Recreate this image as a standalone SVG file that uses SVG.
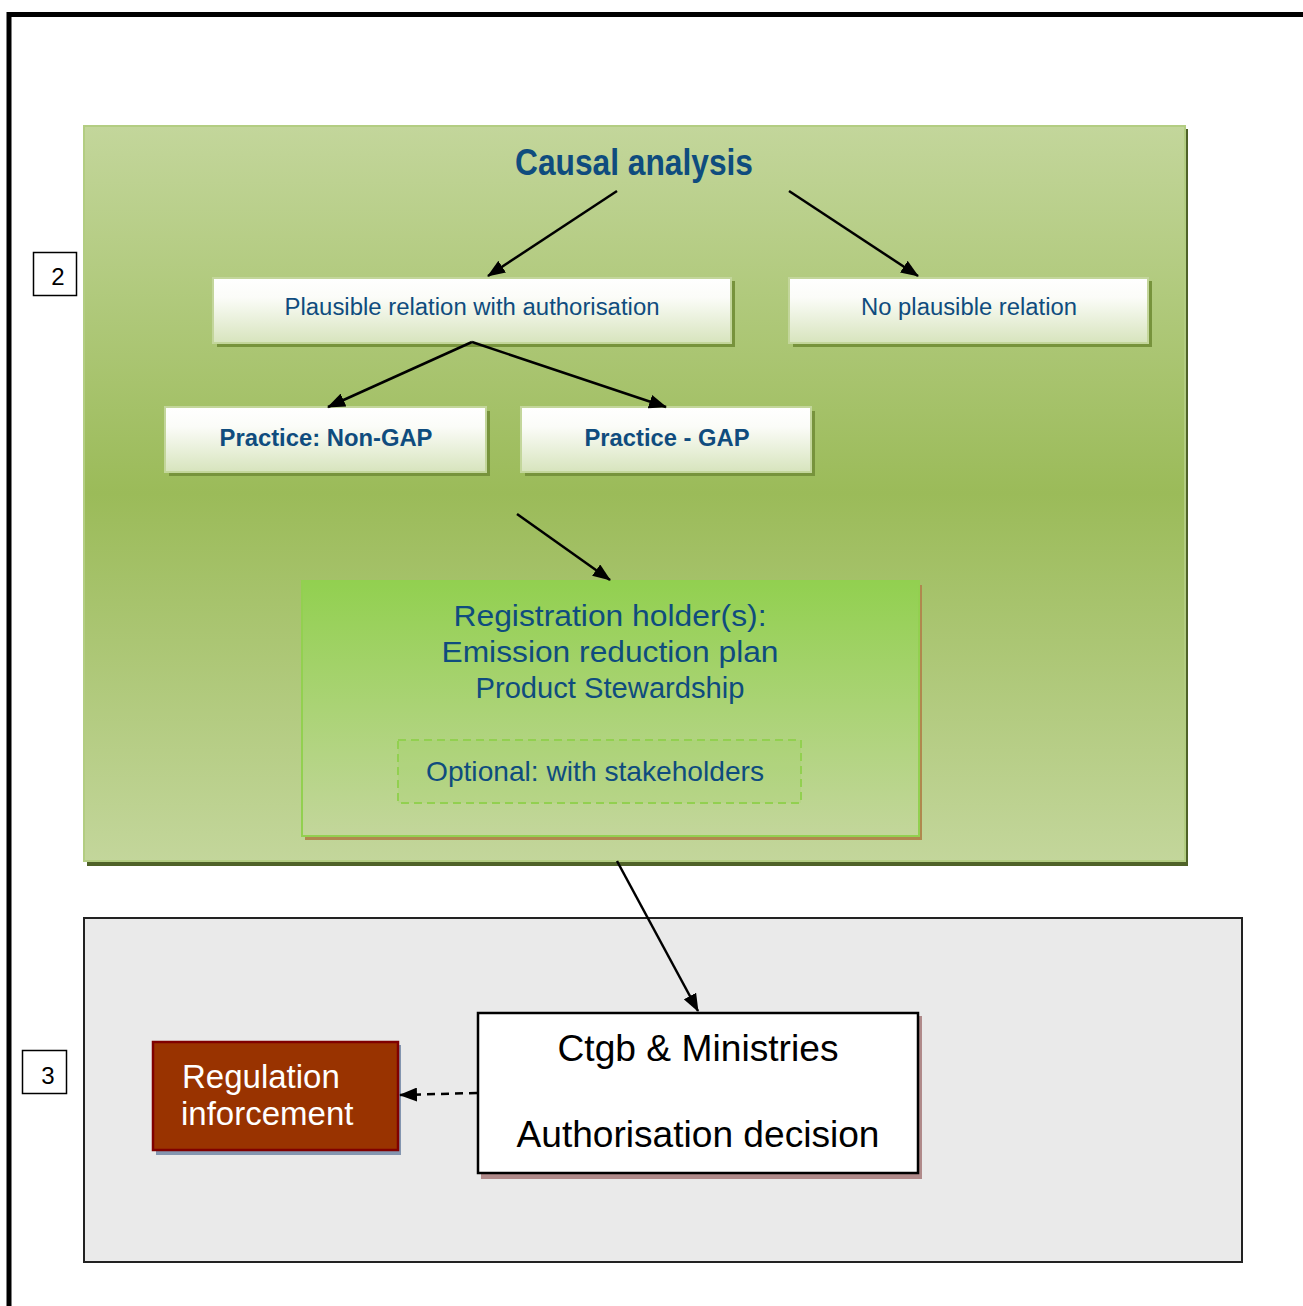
<svg xmlns="http://www.w3.org/2000/svg" width="1303" height="1306" viewBox="0 0 1303 1306">
  <defs>
    <linearGradient id="panelGreen" x1="0" y1="0" x2="0" y2="1">
      <stop offset="0" stop-color="#c3d69b"/>
      <stop offset="0.5" stop-color="#9bbb59"/>
      <stop offset="1" stop-color="#c3d69b"/>
    </linearGradient>
    <linearGradient id="boxLight" x1="0" y1="0" x2="0" y2="1">
      <stop offset="0" stop-color="#ffffff"/>
      <stop offset="0.3" stop-color="#fbfcf8"/>
      <stop offset="1" stop-color="#d7e4bd"/>
    </linearGradient>
    <linearGradient id="boxHolder" x1="0" y1="0" x2="0" y2="1">
      <stop offset="0" stop-color="#92d050"/>
      <stop offset="1" stop-color="#c3d69b"/>
    </linearGradient>
    <marker id="arrow" viewBox="0 0 18 14" refX="17" refY="7" markerWidth="18" markerHeight="14" markerUnits="userSpaceOnUse" orient="auto">
      <path d="M0,0 L18,7 L0,14 z" fill="#000"/>
    </marker>
  </defs>
  <style>
    .frame { fill: none; stroke: #000; stroke-width: 5; }
    .tag { fill: #fff; stroke: #000; stroke-width: 1.5; }
    .tagText { font-family: "Liberation Sans", Arial, sans-serif; font-size: 24px; fill: #000; text-anchor: middle; }
    .lightBox { fill: url(#boxLight); stroke: #c3d69b; stroke-width: 2; }
    .lightShadow { fill: #77933c; }
    .blue { font-family: "Liberation Sans", Arial, sans-serif; fill: #0f4c7e; text-anchor: middle; }
    .bold { font-weight: bold; }
    .conn { stroke: #000; stroke-width: 2.5; fill: none; marker-end: url(#arrow); }
    .black { font-family: "Liberation Sans", Arial, sans-serif; fill: #000; font-size: 37px; text-anchor: middle; }
    .white { font-family: "Liberation Sans", Arial, sans-serif; fill: #fff; font-size: 33px; }
  </style>

  <!-- outer page frame, running off the right and bottom edges -->
  <rect class="frame" x="9" y="14.5" width="1400" height="1400"/>

  <!-- section markers -->
  <g id="tag-2">
    <rect class="tag" x="33.5" y="252.5" width="43" height="43"/>
    <text class="tagText" x="58" y="285">2</text>
  </g>
  <g id="tag-3">
    <rect class="tag" x="22.5" y="1050.5" width="44" height="43"/>
    <text class="tagText" x="48" y="1084">3</text>
  </g>

  <!-- step 2 panel: causal analysis -->
  <g id="panel-causal">
    <rect x="87" y="129" width="1101" height="737" fill="#4f6228"/>
    <rect x="84" y="126" width="1101" height="735" fill="url(#panelGreen)" stroke="#b3cd82" stroke-width="2"/>
    <text class="blue bold" x="634" y="175" font-size="36" textLength="238" lengthAdjust="spacingAndGlyphs">Causal analysis</text>
  </g>

  <!-- step 3 panel -->
  <g id="panel-decision">
    <rect x="84" y="918" width="1158" height="344" fill="#eaeaea" stroke="#222" stroke-width="2"/>
  </g>

  <g id="node-plausible">
    <rect class="lightShadow" x="217" y="281" width="518" height="66"/>
    <rect class="lightBox" x="213" y="278" width="518" height="65"/>
    <text class="blue" x="472" y="315" font-size="23" textLength="375" lengthAdjust="spacingAndGlyphs">Plausible relation with authorisation</text>
  </g>

  <g id="node-no-plausible">
    <rect class="lightShadow" x="793" y="281" width="359" height="66"/>
    <rect class="lightBox" x="789" y="278" width="359" height="65"/>
    <text class="blue" x="969" y="315" font-size="23" textLength="216" lengthAdjust="spacingAndGlyphs">No plausible relation</text>
  </g>

  <g id="node-non-gap">
    <rect class="lightShadow" x="169" y="411" width="321" height="65"/>
    <rect class="lightBox" x="165" y="407" width="321" height="65"/>
    <text class="blue bold" x="326" y="446" font-size="23" textLength="213" lengthAdjust="spacingAndGlyphs">Practice: Non-GAP</text>
  </g>

  <g id="node-gap">
    <rect class="lightShadow" x="525" y="411" width="290" height="65"/>
    <rect class="lightBox" x="521" y="407" width="290" height="65"/>
    <text class="blue bold" x="667" y="446" font-size="23" textLength="165" lengthAdjust="spacingAndGlyphs">Practice - GAP</text>
  </g>

  <g id="node-holders">
    <rect x="305" y="585" width="617" height="255" fill="#b0884e"/>
    <rect x="302" y="581" width="617" height="255" fill="url(#boxHolder)" stroke="#92d050" stroke-width="2"/>
    <text class="blue" x="610" y="626" font-size="30" textLength="313" lengthAdjust="spacingAndGlyphs">Registration holder(s):</text>
    <text class="blue" x="610" y="662" font-size="30" textLength="337" lengthAdjust="spacingAndGlyphs">Emission reduction plan</text>
    <text class="blue" x="610" y="698" font-size="30" textLength="269" lengthAdjust="spacingAndGlyphs">Product Stewardship</text>
    <rect x="398" y="740" width="403" height="63" fill="#92d050" fill-opacity="0.15" stroke="#92d050" stroke-width="2" stroke-dasharray="8 5"/>
    <text class="blue" x="595" y="781" font-size="28" textLength="338" lengthAdjust="spacingAndGlyphs">Optional: with stakeholders</text>
  </g>

  <g id="node-ctgb">
    <rect x="481" y="1016" width="441" height="163" fill="#b08a8a"/>
    <rect x="478" y="1013" width="440" height="160" fill="#fff" stroke="#000" stroke-width="2.5"/>
    <text class="black" x="698" y="1061" textLength="281" lengthAdjust="spacingAndGlyphs">Ctgb &amp; Ministries</text>
    <text class="black" x="698" y="1147" textLength="363" lengthAdjust="spacingAndGlyphs">Authorisation decision</text>
  </g>

  <g id="node-regulation">
    <rect x="156" y="1045" width="245" height="110" fill="#8496b0"/>
    <rect x="153" y="1042" width="245" height="108" fill="#993300" stroke="#800000" stroke-width="2.5"/>
    <text class="white" x="182" y="1088">Regulation</text>
    <text class="white" x="181" y="1125">inforcement</text>
  </g>

  <!-- connectors -->
  <g id="connectors">
    <line class="conn" x1="617" y1="191" x2="488" y2="276"/>
    <line class="conn" x1="789" y1="191" x2="918" y2="276"/>
    <line class="conn" x1="472" y1="342" x2="328" y2="407"/>
    <line class="conn" x1="472" y1="342" x2="666" y2="407"/>
    <line class="conn" x1="517" y1="514" x2="610" y2="580"/>
    <line class="conn" x1="617" y1="861" x2="698" y2="1011"/>
    <line class="conn" x1="477" y1="1093" x2="400" y2="1095" stroke-dasharray="8 6"/>
  </g>
</svg>
